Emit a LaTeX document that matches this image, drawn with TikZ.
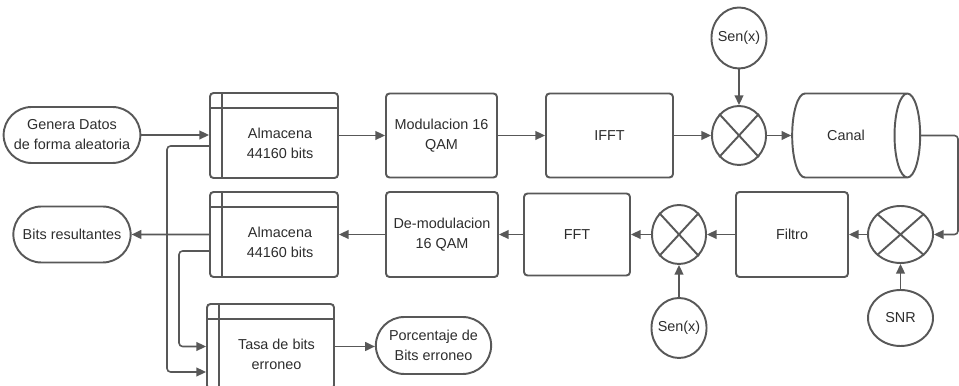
\documentclass[tikz,border=0pt]{standalone}
\usepackage{fontspec}
\setmainfont{Liberation Sans}
\usetikzlibrary{positioning, shapes.geometric, shapes.misc, arrows.meta}
\definecolor{LineGray}{RGB}{88,88,88}
\definecolor{TextGray}{RGB}{45,45,45}

\tikzset{
  every node/.style={font=\fontsize{8.2}{11.4}\selectfont, text=TextGray},
  block/.style={draw=LineGray, line width=1.1pt, rounded corners=2pt, align=center},
  store/.style={block, minimum width=2.56cm, minimum height=1.70cm,
    path picture={
      \draw[LineGray, line width=1.1pt]
        ([xshift=0.24cm]path picture bounding box.north west) -- ([xshift=0.24cm]path picture bounding box.south west)
        ([yshift=-0.30cm]path picture bounding box.north west) -- ([yshift=-0.30cm]path picture bounding box.north east);
    }},
  storetext/.style={align=center},
  term/.style={draw=LineGray, line width=1.1pt, rounded rectangle, align=center,
    minimum width=2.58cm, minimum height=1.12cm},
  source/.style={draw=LineGray, line width=1.1pt, ellipse, inner xsep=-1pt, inner ysep=0pt,
    minimum width=1.08cm, minimum height=1.20cm},
  mixer/.style={draw=LineGray, line width=1.1pt, ellipse, inner sep=0pt,
    minimum width=1.08cm, minimum height=1.18cm},
  % the cylinder takes its sizes before it is laid on its side
  channel/.style={draw=LineGray, line width=1.1pt, cylinder, aspect=1.15,
    minimum width=1.68cm, minimum height=2.56cm},
  flow/.style={draw=LineGray, line width=0.9pt, rounded corners=2pt,
    -{Triangle[length=5.5pt, width=5pt]}}
}

\begin{document}
\begin{tikzpicture}
  \path[use as bounding box, clip] (0,0) rectangle (19.18,7.72);

  % Transmitter row
  \node[term] (gen) at (1.44,5.02) {Genera Datos\\de forma aleatoria};
  \node[store] (store1) at (5.48,5.01) {};
  \node[storetext] (store1txt) at ([shift={(0.12,-0.15)}]store1.center) {Almacena\\44160 bits};
  \node[block, minimum width=2.22cm, minimum height=1.68cm] (mod) at (8.83,5.01) {Modulacion 16\\QAM};
  \node[block, minimum width=2.54cm, minimum height=1.68cm] (ifft) at (12.19,5.01) {IFFT};
  \node[mixer] (mix1) at (14.78,5.01) {};
  \node[source, minimum height=1.22cm] (sen1) at (14.78,6.96) {Sen(x)};
  \node[channel] (canal) at (16.92,5.01) {Canal};
  \coordinate (rim) at (19.16,5.01);

  % Receiver row
  \node[mixer, minimum width=1.30cm, minimum height=1.14cm] (mix2) at (18.01,3.03) {};
  \node[source, minimum width=1.30cm, minimum height=1.12cm] (snr) at (18.01,1.36) {SNR};
  \node[block, minimum width=2.24cm, minimum height=1.70cm] (filtro) at (15.84,3.03) {Filtro};
  \node[mixer] (mix3) at (13.58,3.03) {};
  \node[source] (sen2) at (13.58,1.16) {Sen(x)};
  \node[block, minimum width=2.12cm, minimum height=1.64cm] (fft) at (11.54,3.03) {FFT};
  \node[block, minimum width=2.24cm, minimum height=1.70cm] (demod) at (8.84,3.03) {De-modulacion\\16 QAM};
  \node[store] (store2) at (5.48,3.03) {};
  \node[storetext] (store2txt) at ([shift={(0.12,-0.15)}]store2.center) {Almacena\\44160 bits};
  \node[term] (bits) at (1.44,3.03) {Bits resultantes};

  % Error count
  \node[store, minimum width=2.54cm] (tasa) at (5.41,0.79) {};
  \node[storetext] (tasatxt) at ([shift={(0.12,-0.15)}]tasa.center) {Tasa de bits\\erroneo};
  \node[term, minimum width=2.54cm, minimum height=1.14cm] (pct) at (8.67,0.81) {Porcentaje de\\Bits erroneo};

  % Crosses in the mixers
  \foreach \m in {mix1, mix2, mix3}
    \draw[LineGray, line width=1.1pt] (\m.north east) -- (\m.south west) (\m.north west) -- (\m.south east);

  % Signal path
  \draw[flow] (gen.east) -- (gen.east -| store1.west);
  \draw[flow] (store1) -- (mod);
  \draw[flow] (mod) -- (ifft);
  \draw[flow] (ifft) -- (mix1);
  \draw[flow] (sen1) -- (mix1);
  \draw[flow] (mix1) -- (mix1 -| canal.west);
  \draw[flow] (canal.east) -- (canal.east -| rim) |- (mix2.east);
  \draw[flow] (snr) -- (mix2);
  \draw[flow] (mix2) -- (filtro);
  \draw[flow] (filtro) -- (mix3);
  \draw[flow] (sen2) -- (mix3);
  \draw[flow] (mix3) -- (fft);
  \draw[flow] (fft) -- (demod);
  \draw[flow] (demod) -- (store2);
  \draw[flow] (store2) -- (bits);

  % Comparison of sent and received bits
  \draw[flow] ([yshift=-0.21cm]store1.west) -- ++(-0.84,0) |- ([yshift=-0.51cm]tasa.west);
  \draw[flow] ([yshift=-0.33cm]store2.west) -- ++(-0.60,0) |- (tasa.west);
  \draw[flow] (tasa.east) -- (tasa.east -| pct.west);
\end{tikzpicture}
\end{document}
